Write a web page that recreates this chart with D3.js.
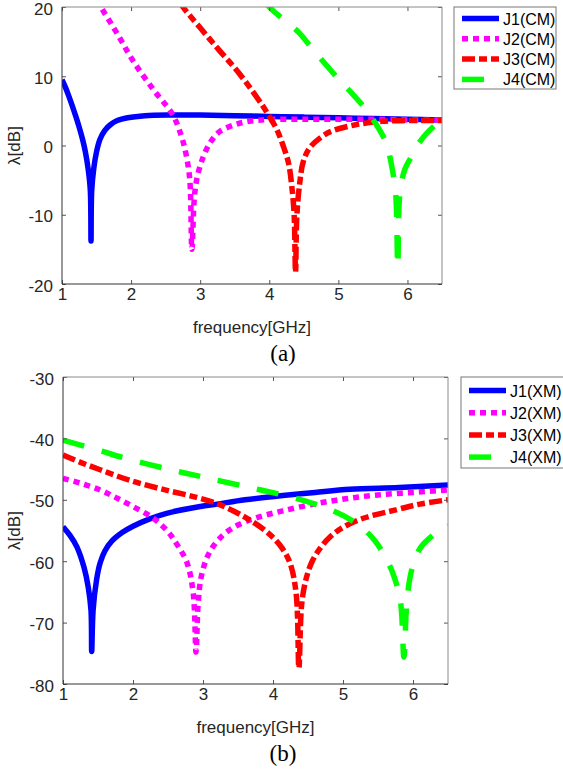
<!DOCTYPE html>
<html>
<head>
<meta charset="utf-8">
<script src="https://cdn.jsdelivr.net/npm/d3@7"></script>
<style>
  body { margin: 0; background: #fff; }
  text { font-family: Arial, "Liberation Sans", sans-serif; fill: #262626; }
</style>
</head>
<body>
<script>
// tick values
var freqTicks = [1, 2, 3, 4, 5, 6];
var cmTicks = [-20, -10, 0, 10, 20];
var xmTicks = [-80, -70, -60, -50, -40, -30];

// legend names
var cmNames = ["J1(CM)", "J2(CM)", "J3(CM)", "J4(CM)"];
var xmNames = ["J1(XM)", "J2(XM)", "J3(XM)", "J4(XM)"];

// (a) CM curves, [frequency GHz, dB]
var j1cm = [[1.0, 9.5], [1.05, 8.4], [1.1, 7.1], [1.15, 5.7], [1.2, 4.2], [1.25, 2.6], [1.3, 0.8],
  [1.34, -1.0], [1.38, -3.5], [1.41, -6.5], [1.42, -13.8], [1.43, -6.5], [1.46, -3.3], [1.5, -0.9],
  [1.55, 0.9], [1.62, 2.2], [1.7, 3.0], [1.8, 3.6], [1.95, 4.0], [2.2, 4.3], [2.6, 4.4], [3.0, 4.4],
  [3.5, 4.3], [4.0, 4.2], [4.5, 4.1], [5.0, 4.0], [5.5, 3.9], [6.0, 3.8], [6.5, 3.7]];
var j2cm = [[1.5, 21], [1.79, 16.3], [2.03, 12.2], [2.32, 8.1], [2.6, 4.5], [2.73, 1.3], [2.8, -1.5],
  [2.85, -5.0], [2.88, -15], [2.92, -7], [2.97, -4], [3.05, -1.5], [3.15, 0.5], [3.28, 2.0],
  [3.5, 3.0], [3.71, 3.5], [4.0, 3.75], [4.5, 3.8], [5.0, 3.8], [5.5, 3.8], [6.0, 3.7], [6.5, 3.7]];
var j3cm = [[2.7, 20.8], [2.75, 20], [3.0, 17.0], [3.28, 13.7], [3.5, 11.2], [3.71, 8.5], [3.9, 5.8],
  [4.0, 4.2], [4.1, 2.5], [4.2, 0], [4.28, -2.6], [4.33, -6.3], [4.36, -10], [4.38, -18.3], [4.4, -10],
  [4.44, -5.5], [4.49, -2.4], [4.58, -0.4], [4.75, 1.2], [4.91, 2.1], [5.25, 3.0], [5.63, 3.5],
  [6.0, 3.6], [6.5, 3.6]];
var j4cm = [[3.95, 20.8], [4.0, 20], [4.43, 16.3], [4.62, 14.0], [5.01, 9.5], [5.2, 7.5], [5.4, 5.2],
  [5.55, 3.0], [5.69, 0.4], [5.78, -3.4], [5.83, -7], [5.86, -17.5], [5.89, -7], [5.96, -3.5],
  [6.07, -1.4], [6.17, 0.4], [6.3, 2.0], [6.5, 3.8]];

// (b) XM curves, [frequency GHz, dB]
var j1xm = [[1.0, -54.4], [1.1, -55.8], [1.2, -57.7], [1.3, -61.0], [1.36, -64.2], [1.4, -68],
  [1.41, -74.7], [1.43, -68], [1.48, -63], [1.53, -60.3], [1.6, -58.3], [1.7, -56.7], [1.85, -55.3],
  [2.0, -54.3], [2.24, -53.1], [2.48, -52.2], [2.96, -51.1], [3.2, -50.7], [3.6, -50.0], [4.14, -49.3],
  [4.6, -48.8], [5.1, -48.3], [5.8, -48.0], [6.5, -47.6]];
var j2xm = [[1.0, -46.5], [1.25, -47.3], [1.53, -48.4], [1.75, -49.6], [2.0, -51.1], [2.29, -53],
  [2.5, -55.2], [2.63, -57.3], [2.77, -60.2], [2.86, -65.2], [2.9, -74.8], [2.93, -67], [2.97, -62.8],
  [3.05, -59.6], [3.15, -57.5], [3.3, -55.6], [3.5, -54.1], [3.77, -52.9], [4.14, -51.8], [4.63, -50.6],
  [5.06, -49.8], [5.5, -49.2], [6.0, -48.8], [6.5, -48.4]];
var j3xm = [[1.0, -42.7], [1.25, -43.9], [1.53, -45.1], [2.0, -47.0], [2.5, -48.5], [2.91, -49.6],
  [3.2, -50.6], [3.45, -51.9], [3.67, -53.3], [3.91, -55.2], [4.1, -57.4], [4.24, -60.2], [4.33, -65.2],
  [4.37, -77.4], [4.41, -67], [4.47, -63], [4.56, -60.0], [4.68, -57.8], [4.81, -56.1], [5.0, -54.5],
  [5.29, -53.0], [5.77, -51.6], [6.1, -50.7], [6.5, -50]];
var j4xm = [[1.0, -40.3], [1.5, -41.9], [1.91, -43.3], [2.5, -45.0], [3.0, -46.3], [3.63, -47.9],
  [4.24, -49.5], [4.6, -50.7], [4.86, -51.8], [5.1, -53.2], [5.3, -54.8], [5.45, -56.6], [5.6, -59.2],
  [5.72, -62.2], [5.82, -66.5], [5.87, -75.6], [5.91, -67], [5.96, -62.5], [6.03, -59.6], [6.12, -57.6],
  [6.24, -56.2], [6.39, -54.9], [6.5, -54.2]];

var colors = ["#0000ff", "#ff00ff", "#ff0000", "#00ff00"];
var dashes = [null, "6,5", "13,4,8,4", "22,18"];

var svg = d3.select("body").append("svg")
  .attr("width", 563)
  .attr("height", 774);

function drawPanel(p) {
  var x = d3.scaleLinear().domain([1, 6.5]).range([p.left, p.right]);
  var y = d3.scaleLinear().domain(p.yDomain).range([p.bottom, p.top]);
  var g = svg.append("g");

  g.append("clipPath").attr("id", p.id)
    .append("rect")
    .attr("x", p.left).attr("y", p.top)
    .attr("width", p.right - p.left).attr("height", p.bottom - p.top);

  var line = d3.line()
    .x(d => x(d[0]))
    .y(d => y(d[1]))
    .curve(d3.curveCatmullRom.alpha(0.5));

  var lines = g.append("g").attr("clip-path", "url(#" + p.id + ")");
  p.series.forEach(function(s, i) {
    lines.append("path")
      .attr("d", line(s))
      .attr("fill", "none")
      .attr("stroke", colors[i])
      .attr("stroke-width", 5.5)
      .attr("stroke-dasharray", dashes[i]);
  });

  // axes with inward ticks
  var bottomAxis = g.append("g")
    .attr("transform", `translate(0, ${p.bottom})`)
    .call(d3.axisBottom(x).tickValues(freqTicks).tickSize(-4).tickPadding(4).tickFormat(d3.format("d")));
  var topAxis = g.append("g")
    .attr("transform", `translate(0, ${p.top})`)
    .call(d3.axisTop(x).tickValues(freqTicks).tickSize(-4).tickFormat(""));
  var leftAxis = g.append("g")
    .attr("transform", `translate(${p.left}, 0)`)
    .call(d3.axisLeft(y).tickValues(p.yTicks).tickSize(-4).tickPadding(9).tickFormat(d3.format("d")));
  var rightAxis = g.append("g")
    .attr("transform", `translate(${p.right}, 0)`)
    .call(d3.axisRight(y).tickValues(p.yTicks).tickSize(-4).tickFormat(""));

  [bottomAxis, topAxis, leftAxis, rightAxis].forEach(function(a) {
    a.select(".domain").remove();
    a.selectAll("line").attr("stroke", "#555");
    a.selectAll("text").attr("font-size", "17px").attr("fill", "#262626")
      .attr("font-family", "Arial, 'Liberation Sans', sans-serif");
  });
  leftAxis.selectAll("text")
    .attr("dy", "0.42em")
    .text(d => d < 0 ? "-" + Math.abs(d) : d);

  g.append("line").attr("x1", p.left).attr("x2", p.right).attr("y1", p.top).attr("y2", p.top)
    .attr("stroke", "#8a8a8a");
  g.append("line").attr("x1", p.right).attr("x2", p.right).attr("y1", p.top).attr("y2", p.bottom)
    .attr("stroke", "#8a8a8a");
  g.append("line").attr("x1", p.left).attr("x2", p.right).attr("y1", p.bottom).attr("y2", p.bottom)
    .attr("stroke", "#333");
  g.append("line").attr("x1", p.left).attr("x2", p.left).attr("y1", p.top).attr("y2", p.bottom)
    .attr("stroke", "#333");

  // axis labels
  g.append("text")
    .attr("x", (p.left + p.right) / 2)
    .attr("y", p.bottom + 49)
    .attr("text-anchor", "middle")
    .attr("font-size", "17px")
    .text("frequency[GHz]");
  g.append("text")
    .attr("transform", `translate(20, ${(p.top + p.bottom) / 2}) rotate(-90)`)
    .attr("text-anchor", "middle")
    .attr("font-size", "17px")
    .text("λ[dB]");

  // caption
  g.append("text")
    .attr("x", 283)
    .attr("y", p.bottom + 77)
    .attr("text-anchor", "middle")
    .attr("font-size", "23px")
    .style("font-family", "'Liberation Serif', 'Times New Roman', serif")
    .style("fill", "#000")
    .text(p.caption);

  // legend
  var lg = g.append("g");
  lg.append("rect")
    .attr("x", p.legX).attr("y", p.legY)
    .attr("width", p.legW).attr("height", p.legH)
    .attr("fill", "#fff").attr("stroke", "#777");
  p.names.forEach(function(n, i) {
    var yy = p.legY + p.legFirst + i * p.legStep;
    lg.append("line")
      .attr("x1", p.legX + 8).attr("x2", p.legX + 45)
      .attr("y1", yy).attr("y2", yy)
      .attr("stroke", colors[i])
      .attr("stroke-width", 5.5)
      .attr("stroke-dasharray", dashes[i]);
    lg.append("text")
      .attr("x", p.legX + 49)
      .attr("y", yy + 6)
      .attr("font-size", "16px")
      .style("fill", "#000")
      .text(n);
  });
}

drawPanel({
  id: "clipA", left: 62, right: 442, top: 7, bottom: 284,
  yDomain: [-20, 20], yTicks: cmTicks,
  series: [j1cm, j2cm, j3cm, j4cm], names: cmNames, caption: "(a)",
  legX: 454, legY: 7, legW: 102, legH: 82, legFirst: 11.5, legStep: 20.3
});

drawPanel({
  id: "clipB", left: 63, right: 448, top: 377, bottom: 684,
  yDomain: [-80, -30], yTicks: xmTicks,
  series: [j1xm, j2xm, j3xm, j4xm], names: xmNames, caption: "(b)",
  legX: 461, legY: 377, legW: 106, legH: 91, legFirst: 13.5, legStep: 22.2
});
</script>
</body>
</html>
